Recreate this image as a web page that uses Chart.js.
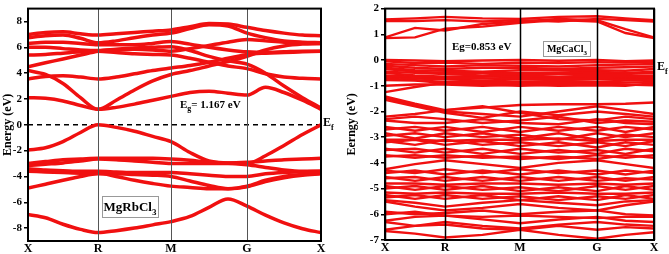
<!DOCTYPE html>
<html><head><meta charset="utf-8">
<script src="https://cdn.jsdelivr.net/npm/chart.js@4/dist/chart.umd.min.js"></script>
<style>
html,body{margin:0;padding:0;background:#fff;width:669px;height:254px;overflow:hidden}
#c1{position:absolute;left:0;top:0}
#c2{position:absolute;left:340px;top:0}
</style></head><body>
<canvas id="c1" width="338" height="254"></canvas>
<canvas id="c2" width="329" height="254"></canvas>
<script>
// ---------- Left panel: MgRbCl3 ----------
const symLabels = ['X','R','M','G','X'];
const symLeft = [0, 70, 143, 219, 293];
const kLeft = [0, 17.5, 35, 52.5, 70, 88.25, 106.5, 124.75, 143, 162, 181, 200, 219, 237.5, 256, 274.5, 293];
const yTicksLeft = [-8, -6, -4, -2, 0, 2, 4, 6, 8];
const fermiLeft = [0, 0];

const cbT1 = [7.0, 7.15, 7.2, 7.05, 6.95, 7.05, 7.15, 7.25, 7.35, 7.6, 7.85, 7.8, 7.55, 7.3, 7.1, 6.95, 6.9];
const cbT2 = [6.75, 6.9, 6.95, 6.7, 6.35, 6.5, 6.75, 6.95, 7.1, 7.45, 7.75, 7.65, 7.1, 6.75, 6.5, 6.4, 6.35];
const cbT3 = [6.3, 6.4, 6.4, 6.3, 6.2, 6.2, 6.2, 6.3, 6.45, 6.25, 6.0, 5.8, 5.65, 5.6, 5.65, 5.7, 5.7];
const cbT4 = [6.0, 6.0, 5.9, 5.8, 5.75, 5.85, 5.95, 6.0, 6.05, 5.75, 5.3, 4.95, 4.7, 4.0, 3.0, 2.1, 1.3];
const cbT5 = [5.4, 5.45, 5.55, 5.65, 5.7, 5.6, 5.5, 5.45, 5.4, 5.15, 4.85, 4.55, 4.35, 3.95, 3.7, 3.6, 3.55];
const cbT6 = [4.5, 4.8, 5.1, 5.4, 5.7, 5.8, 5.85, 5.8, 5.7, 5.9, 6.15, 6.4, 6.6, 6.5, 6.4, 6.35, 6.3];
const cbD  = [3.55, 3.75, 3.8, 3.7, 3.55, 3.7, 3.95, 4.2, 4.4, 4.6, 4.85, 5.15, 5.45, 5.55, 5.6, 5.65, 5.7];
const cbC2 = [4.2, 3.9, 3.2, 2.1, 1.2, 1.9, 2.7, 3.4, 3.9, 4.2, 4.55, 4.9, 5.3, 5.8, 6.1, 6.25, 6.3];
const cbC1 = [2.1, 2.05, 1.85, 1.5, 1.2, 1.35, 1.6, 1.9, 2.2, 2.5, 2.6, 2.45, 2.3, 2.9, 2.5, 1.9, 1.2];

const vbV1 = [-1.95, -1.78, -1.3, -0.6, 0.0, -0.2, -0.5, -0.9, -1.3, -2.15, -2.8, -2.95, -3.0, -2.4, -1.6, -0.75, 0.0];
const vbV2 = [-3.0, -2.85, -2.7, -2.65, -2.6, -2.6, -2.6, -2.6, -2.65, -2.75, -2.9, -2.95, -2.9, -2.8, -2.7, -2.65, -2.6];
const vbV3 = [-3.15, -3.05, -2.95, -2.8, -2.65, -2.7, -2.8, -2.9, -3.0, -3.0, -3.0, -3.0, -3.1, -3.3, -3.5, -3.6, -3.6];
const vbV4 = [-3.4, -3.5, -3.55, -3.6, -3.6, -3.65, -3.7, -3.7, -3.7, -3.8, -3.9, -4.0, -4.0, -3.8, -3.7, -3.65, -3.6];
const vbV5 = [-3.6, -3.65, -3.7, -3.75, -3.75, -4.0, -4.3, -4.55, -4.75, -4.85, -4.95, -4.95, -4.75, -4.3, -4.0, -3.85, -3.75];
const vbV6 = [-4.9, -4.6, -4.3, -4.0, -3.8, -3.8, -3.85, -3.9, -4.0, -4.35, -4.7, -4.95, -4.8, -4.4, -4.1, -3.9, -3.8];
const vbV7 = [-6.95, -7.2, -7.7, -8.1, -8.35, -8.2, -8.0, -7.75, -7.5, -7.1, -6.4, -5.75, -6.3, -7.0, -7.6, -8.05, -8.35];

const leftBands = [cbT1, cbT2, cbT3, cbT4, cbT5, cbT6, cbD, cbC2, cbC1, vbV1, vbV2, vbV3, vbV4, vbV5, vbV6, vbV7];

// ---------- Right panel: MgCaCl3 ----------
const symRight = [0, 60, 135, 212, 269];
const kRight = [0, 30, 60, 97.5, 135, 173.5, 212, 240.5, 269];
const yTicksRight = [-7, -6, -5, -4, -3, -2, -1, 0, 1, 2];

const rightConduction = [
  [1.58, 1.62, 1.68, 1.62, 1.6, 1.68, 1.7, 1.62, 1.55],
  [1.52, 1.52, 1.55, 1.5, 1.55, 1.5, 1.6, 1.55, 1.5],
  [0.88, 1.25, 1.15, 1.4, 1.5, 1.6, 1.55, 1.2, 0.88],
  [0.85, 0.88, 1.22, 1.3, 1.45, 1.55, 1.5, 1.05, 0.85]
];
const rightValenceTop = [
  [0.0, -0.02, -0.05, -0.02, 0.0, -0.03, 0.0, -0.05, -0.02],
  [-0.05, -0.12, -0.1, -0.15, -0.1, -0.12, -0.08, -0.1, -0.08],
  [-0.15, -0.2, -0.25, -0.2, -0.22, -0.25, -0.2, -0.18, -0.15],
  [-0.22, -0.3, -0.35, -0.3, -0.3, -0.35, -0.3, -0.28, -0.25],
  [-0.3, -0.4, -0.42, -0.45, -0.4, -0.38, -0.4, -0.42, -0.35],
  [-0.35, -0.45, -0.5, -0.5, -0.5, -0.48, -0.45, -0.5, -0.45],
  [-0.45, -0.5, -0.55, -0.6, -0.55, -0.55, -0.55, -0.55, -0.5],
  [-0.5, -0.6, -0.65, -0.65, -0.6, -0.65, -0.6, -0.62, -0.6],
  [-0.6, -0.65, -0.7, -0.72, -0.7, -0.7, -0.7, -0.68, -0.65],
  [-0.65, -0.72, -0.75, -0.8, -0.75, -0.78, -0.75, -0.75, -0.72],
  [-0.72, -0.78, -0.85, -0.85, -0.85, -0.82, -0.85, -0.8, -0.78],
  [-0.78, -0.8, -0.9, -0.92, -0.9, -0.9, -0.9, -0.88, -0.85],
  [-1.25, -1.05, -0.88, -0.95, -1.0, -0.95, -0.92, -0.95, -0.98],
  [-1.0, -0.95, -0.95, -1.0, -0.95, -1.0, -0.98, -1.0, -0.9]
];
const rightValenceMid = [
  [-1.42, -1.7, -1.95, -1.85, -1.75, -1.72, -1.72, -1.7, -1.65],
  [-1.48, -1.75, -2.0, -2.1, -2.2, -2.0, -1.8, -1.95, -2.1],
  [-1.55, -1.8, -2.05, -2.25, -2.0, -2.15, -2.0, -2.1, -2.2],
  [-2.2, -2.1, -1.95, -1.8, -2.05, -2.3, -2.35, -2.2, -2.3],
  [-2.3, -2.2, -2.3, -2.45, -2.35, -2.2, -2.45, -2.35, -2.4],
  [-2.35, -2.45, -2.45, -2.3, -2.45, -2.5, -2.3, -2.45, -2.5],
  [-2.6, -2.75, -2.6, -2.8, -2.6, -2.75, -2.6, -2.8, -2.6],
  [-2.7, -2.6, -2.75, -2.6, -2.8, -2.6, -2.75, -2.6, -2.7],
  [-2.85, -3.05, -2.85, -3.0, -2.9, -3.1, -2.85, -3.0, -2.85],
  [-2.95, -2.85, -3.0, -2.85, -3.05, -2.85, -3.1, -2.9, -3.0],
  [-3.1, -3.1, -3.15, -3.1, -3.1, -3.05, -3.15, -3.1, -3.1],
  [-3.15, -3.3, -3.1, -3.3, -3.2, -3.35, -3.2, -3.35, -3.15],
  [-3.2, -3.1, -3.3, -3.15, -3.35, -3.2, -3.4, -3.2, -3.3],
  [-3.45, -3.6, -3.45, -3.65, -3.45, -3.6, -3.5, -3.65, -3.45],
  [-3.5, -3.45, -3.6, -3.45, -3.65, -3.5, -3.65, -3.45, -3.55],
  [-3.7, -3.8, -3.7, -3.8, -3.75, -3.85, -3.7, -3.8, -3.7],
  [-3.75, -3.7, -3.8, -3.72, -3.85, -3.75, -3.85, -3.7, -3.8]
];
const rightValenceLow = [
  [-4.25, -4.05, -3.9, -4.05, -4.2, -4.0, -3.9, -4.05, -4.2],
  [-4.3, -4.4, -4.25, -4.4, -4.25, -4.4, -4.3, -4.45, -4.3],
  [-4.4, -4.3, -4.45, -4.3, -4.45, -4.3, -4.45, -4.3, -4.4],
  [-4.55, -4.7, -4.55, -4.7, -4.55, -4.7, -4.55, -4.7, -4.55],
  [-4.6, -4.55, -4.7, -4.55, -4.7, -4.55, -4.7, -4.6, -4.65],
  [-4.8, -4.8, -4.85, -4.8, -4.8, -4.85, -4.8, -4.85, -4.8],
  [-4.9, -5.05, -4.9, -5.05, -4.95, -5.1, -4.9, -5.05, -4.9],
  [-5.0, -4.9, -5.05, -4.9, -5.1, -4.95, -5.1, -4.9, -5.05],
  [-5.15, -5.2, -5.15, -5.2, -5.2, -5.15, -5.2, -5.2, -5.15],
  [-5.25, -5.4, -5.25, -5.4, -5.3, -5.45, -5.3, -5.4, -5.25],
  [-5.35, -5.25, -5.4, -5.25, -5.45, -5.3, -5.45, -5.25, -5.4],
  [-5.45, -5.55, -5.7, -5.55, -5.45, -5.55, -5.65, -5.5, -5.45],
  [-5.5, -5.7, -5.85, -5.75, -5.6, -5.75, -5.85, -5.65, -5.5],
  [-5.9, -6.0, -5.95, -5.85, -6.0, -5.9, -5.85, -6.0, -6.05],
  [-6.0, -5.9, -6.05, -6.1, -6.05, -6.1, -6.15, -6.1, -6.1],
  [-6.25, -6.1, -6.05, -6.2, -6.35, -6.2, -6.1, -6.25, -6.3],
  [-6.3, -6.45, -6.3, -6.45, -6.55, -6.4, -6.3, -6.4, -6.45],
  [-6.6, -6.45, -6.4, -6.55, -6.6, -6.45, -6.6, -6.5, -6.55],
  [-6.65, -6.75, -6.9, -6.8, -6.6, -6.8, -6.95, -6.8, -6.7]
];
const rightBands = [...rightConduction, ...rightValenceTop, ...rightValenceMid, ...rightValenceLow];

// ---------- helpers ----------
const F = "'Liberation Serif','Times New Roman',serif";
const RED = 'rgb(240,16,16)';

function bandSet(k, vals, w, tension){
  return {data: vals.map((v,i)=>({x:k[i], y:v})), borderColor: RED, borderWidth: w,
    pointRadius: 0, fill: false, tension: tension, cubicInterpolationMode: tension ? 'monotone' : 'default'};
}

function drawRich(ctx, x, y, segs, size, align){
  const norm = 'bold ' + size + 'px ' + F;
  const sub = 'bold ' + Math.round(size*0.7) + 'px ' + F;
  let total = 0;
  segs.forEach(s=>{ ctx.font = s.sub ? sub : norm; total += ctx.measureText(s.t).width; });
  let cx = align === 'center' ? x - total/2 : x;
  ctx.fillStyle = '#000'; ctx.textBaseline = 'alphabetic'; ctx.textAlign = 'left';
  segs.forEach(s=>{
    ctx.font = s.sub ? sub : norm;
    ctx.fillText(s.t, cx, s.sub ? y + size*0.3 : y);
    cx += ctx.measureText(s.t).width;
  });
  return total;
}

function framePlugin(vColor, vWidth, frameW, texts){
  return {id:'frame', afterDatasetsDraw(chart){
    const {ctx, chartArea:a, scales} = chart;
    ctx.save();
    ctx.strokeStyle = vColor; ctx.lineWidth = vWidth;
    scales.x.ticks.forEach(t=>{
      const px = Math.round(scales.x.getPixelForValue(t.value)) + 0.5;
      ctx.beginPath(); ctx.moveTo(px, a.top); ctx.lineTo(px, a.bottom); ctx.stroke();
    });
    ctx.strokeStyle = '#000'; ctx.lineWidth = frameW;
    ctx.strokeRect(a.left, a.top, a.right - a.left, a.bottom - a.top);
    texts(ctx, chart);
    ctx.restore();
  }};
}

function makeOptions(sym, yMin, yMax, yTicks, yWidth, xH, padding, title, titlePad){
  return {
    responsive: false, animation: false, events: [],
    layout: {padding: padding},
    plugins: {legend: {display: false}, tooltip: {enabled: false}},
    scales: {
      x: {type: 'linear', min: sym[0], max: sym[sym.length-1],
        afterBuildTicks: s => { s.ticks = sym.map(v => ({value: v})); },
        afterFit: s => { s.height = xH; },
        ticks: {callback: (v, i) => symLabels[i], font: {family: F, weight: 'bold', size: 12}, color: '#000',
          padding: 1, maxRotation: 0, autoSkip: false},
        grid: {display: false, drawTicks: false, tickLength: 0}, border: {display: false}},
      y: {min: yMin, max: yMax,
        afterBuildTicks: s => { s.ticks = yTicks.map(v => ({value: v})); },
        afterFit: s => { s.width = yWidth; },
        ticks: {callback: v => String(v), font: {family: F, weight: 'bold', size: 11}, color: '#000', padding: 2},
        grid: {drawOnChartArea: false, drawTicks: true, tickLength: 4, color: '#000', lineWidth: 1.5},
        border: {display: false},
        title: {display: true, text: title, font: {family: F, weight: 'bold', size: 12}, color: '#000', padding: titlePad}}
    }
  };
}

// ---------- Left chart ----------
const leftDatasets = leftBands.map(b => bandSet(kLeft, b, 3.5, 0.4));
leftDatasets.push({data: fermiLeft.map((v,i)=>({x: symLeft[i*4], y: v})), borderColor: '#000', borderWidth: 1.5,
  borderDash: [5, 4], pointRadius: 0, fill: false});

new Chart(document.getElementById('c1'), {
  type: 'line',
  data: {datasets: leftDatasets},
  options: makeOptions(symLeft, -9, 9, yTicksLeft, 28, 13, {top: 2, right: 17, left: 0, bottom: 0}, 'Energy (eV)', {top: 1, bottom: 0}),
  plugins: [framePlugin('#555', 1, 2, (ctx, chart)=>{
    drawRich(ctx, 180, 108, [{t:'E'},{t:'g',sub:true},{t:'= 1.167 eV'}], 11, 'left');
    drawRich(ctx, 323, 126, [{t:'E'},{t:'f',sub:true}], 12, 'left');
    ctx.strokeStyle = '#999'; ctx.lineWidth = 1;
    ctx.strokeRect(102.5, 196.5, 56, 21);
    drawRich(ctx, 130, 211, [{t:'MgRbCl'},{t:'3',sub:true}], 13, 'center');
  })]
});

// ---------- Right chart ----------
const rightDatasets = rightBands.map(b => bandSet(kRight, b, 2.4, 0));
new Chart(document.getElementById('c2'), {
  type: 'line',
  data: {datasets: rightDatasets},
  options: makeOptions(symRight, -7, 2, yTicksRight, 45, 14, {top: 8, right: 15, left: 0, bottom: 0}, 'Eerngy (eV)', {top: 5, bottom: 0}),
  plugins: [framePlugin('#000', 1.5, 2, (ctx, chart)=>{
    drawRich(ctx, 112, 50, [{t:'Eg=0.853 eV'}], 11, 'left');
    drawRich(ctx, 317, 70, [{t:'E'},{t:'f',sub:true}], 12, 'left');
    ctx.fillStyle = '#fff';
    ctx.fillRect(203, 41, 47, 15);
    ctx.strokeStyle = '#999'; ctx.lineWidth = 1;
    ctx.strokeRect(203.5, 41.5, 47, 15);
    drawRich(ctx, 227, 52, [{t:'MgCaCl'},{t:'3',sub:true}], 10, 'center');
  })]
});
</script>
</body></html>
